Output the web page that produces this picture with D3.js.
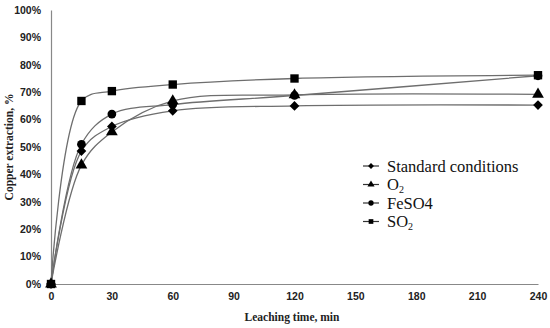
<!DOCTYPE html>
<html>
<head>
<meta charset="utf-8">
<script src="https://cdn.jsdelivr.net/npm/d3@7"></script>
<style>
body{margin:0;background:#fff}
svg{font-family:"Liberation Serif","DejaVu Serif",serif}
.tick text{font-weight:bold;font-size:10.5px;fill:#222}
</style>
</head>
<body>
<svg id="chart" width="550" height="328"></svg>
<script>
// leaching time, min
const times = [0, 15, 30, 60, 120, 240]
const standard = [0, 48.5, 57.5, 63.2, 65.0, 65.3]
const oxygen = [0, 43.4, 55.5, 66.8, 69.0, 69.2]
const feso4 = [0, 51.0, 62.0, 65.5, 68.8, 76.0]
const so2 = [0, 66.8, 70.4, 72.8, 75.0, 76.2]
const xTicks = [0, 30, 60, 90, 120, 150, 180, 210, 240]
const yTicks = [0, 10, 20, 30, 40, 50, 60, 70, 80, 90, 100]

const series = [
    {name: "Standard conditions", values: standard, shape: d3.symbolDiamond2},
    {name: "O2", values: oxygen, shape: d3.symbolTriangle},
    {name: "FeSO4", values: feso4, shape: d3.symbolCircle},
    {name: "SO2", values: so2, shape: d3.symbolSquare}
]

let svg = d3.select("#chart")
let xScale = d3.scaleLinear().domain([0, 240]).range([51, 538])
let yScale = d3.scaleLinear().domain([0, 100]).range([284, 10])

// axes
let x_axis = d3.axisBottom(xScale).tickValues(xTicks).tickSize(0).tickPadding(9)
let y_axis = d3.axisLeft(yScale).tickValues(yTicks).tickSize(0).tickPadding(10)
    .tickFormat(d => d + "%")
svg.append("g").attr("transform", `translate(0,${yScale(0)})`).call(x_axis)
svg.append("g").attr("transform", `translate(${xScale(0)},0)`).call(y_axis)
svg.selectAll(".domain").attr("stroke", "#888").attr("stroke-width", 1.2)

// lines
let line = d3.line()
    .x((d, i) => xScale(times[i]))
    .y(d => yScale(d))
    .curve(d3.curveCatmullRom.alpha(0.5))

series.forEach(s => {
    svg.append("path").datum(s.values)
        .attr("d", line)
        .attr("fill", "none")
        .attr("stroke", "#6e6e6e")
        .attr("stroke-width", 1.3)
})
series.forEach(s => {
    svg.selectAll(null).data(s.values).enter()
        .append("path")
        .attr("transform", (d, i) => `translate(${xScale(times[i])},${yScale(d)})`)
        .attr("d", d3.symbol().type(s.shape).size(s.shape === d3.symbolSquare ? 70 : 60))
        .attr("fill", "#000")
})

// legend
let legend = svg.append("g").attr("transform", "translate(363,166)")
series.forEach((s, i) => {
    let g = legend.append("g").attr("transform", `translate(0,${i * 18.5})`)
    g.append("line").attr("x1", 0).attr("x2", 16).attr("stroke", "#333").attr("stroke-width", 1.2)
    g.append("path").attr("transform", "translate(8,0)")
        .attr("d", d3.symbol().type(s.shape).size(22)).attr("fill", "#000")
    let t = g.append("text").attr("x", 24).attr("y", 5.5).style("font-size", "16.5px").attr("fill", "#111")
    if (s.name.endsWith("2")) {
        t.append("tspan").text(s.name.slice(0, -1))
        t.append("tspan").attr("dy", 3).style("font-size", "10px").text("2")
    } else {
        t.text(s.name)
    }
})

// axis titles
svg.append("text")
    .attr("x", 292).attr("y", 321)
    .attr("text-anchor", "middle")
    .style("font-size", "11.5px").style("font-weight", "bold").attr("fill", "#222")
    .text("Leaching time, min")
svg.append("text")
    .attr("transform", "translate(13,147) rotate(270)")
    .attr("text-anchor", "middle")
    .style("font-size", "11.5px").style("font-weight", "bold").attr("fill", "#222")
    .text("Copper extraction, %")
</script>
</body>
</html>
